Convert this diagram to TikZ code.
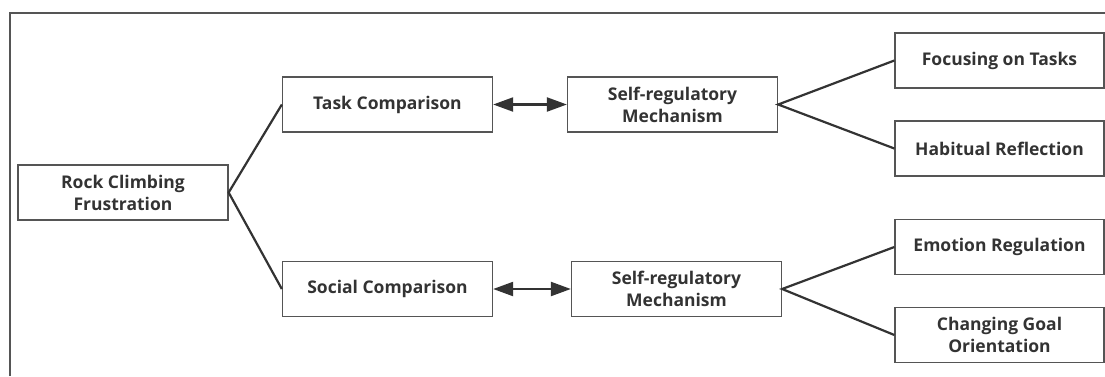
\documentclass[tikz,border=0pt]{standalone}
\usepackage{fontspec}
\setmainfont{Open Sans}
\usetikzlibrary{arrows.meta}

\definecolor{inkgray}{HTML}{333333}
\definecolor{boxgray}{HTML}{555555}

\tikzset{
  factor/.style={draw=boxgray, line width=1.3pt, minimum width=210pt, minimum height=55pt,
    align=center, text=inkgray, font=\fontsize{17.5}{22}\selectfont\bfseries, inner sep=0pt},
  branch/.style={draw=inkgray, line width=2.2pt},
  twoway/.style={draw=inkgray, line width=2.2pt, {Triangle[length=20pt,width=14pt]}-{Triangle[length=20pt,width=14pt]}}
}

\begin{document}
\begin{tikzpicture}[x=1pt, y=-1pt]
    \useasboundingbox (0,0) rectangle (1105,376);
    \draw[boxgray, line width=1.3pt] (10,376) -- (10,13) -- (1105,13);
    % left part
    \node[factor] (rock) at (123,192.5) {Rock Climbing\\Frustration};
    \node[factor] (task) at (387.5,104.5) {Task Comparison};
    \node[factor] (social) at (387.5,289) {Social Comparison};
    % middle part
    \node[factor] (selftask) at (672.5,104.5) {Self-regulatory\\Mechanism};
    \node[factor] (selfsocial) at (676.5,289) {Self-regulatory\\Mechanism};
    % right part
    \node[factor, minimum width=209pt] (focus) at (999.5,60.5) {Focusing on Tasks};
    \node[factor, minimum width=209pt] (habit) at (999.5,148.5) {Habitual Reflection};
    \node[factor, minimum width=209pt] (emotion) at (999.5,247) {Emotion Regulation};
    \node[factor, minimum width=209pt] (goal) at (999.5,335) {Changing Goal\\Orientation};

    \draw[branch] (task.west) -- (rock.east) -- (social.west);
    \draw[twoway] (task) -- (selftask);
    \draw[twoway] (social) -- (selfsocial);
    \draw[branch] (focus.west) -- (selftask.east) -- (habit.west);
    \draw[branch] (emotion.west) -- (selfsocial.east) -- (goal.west);
  \end{tikzpicture}
\end{document}
